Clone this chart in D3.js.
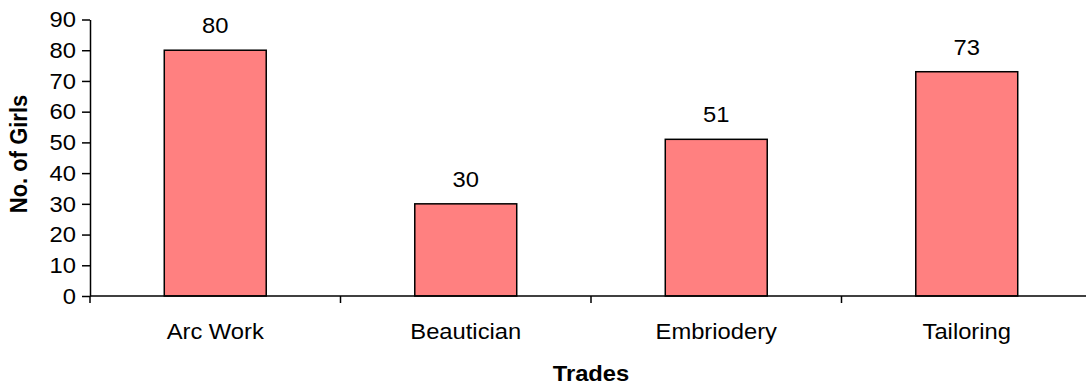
<!DOCTYPE html>
<html>
<head>
<meta charset="utf-8">
<script src="https://cdn.jsdelivr.net/npm/d3@7"></script>
<style>
  html, body { margin: 0; padding: 0; background: #fff; }
  svg { display: block; }
  text { font-family: "Liberation Sans", Arial, sans-serif; fill: #000; }
</style>
</head>
<body>
<svg id="chart" width="1086" height="387"></svg>
<script>
// Trainee counts per trade
const trades = ["Arc Work", "Beautician", "Embriodery", "Tailoring"];
const girls = [80, 30, 51, 73];
const yTicks = [0, 10, 20, 30, 40, 50, 60, 70, 80, 90];

const svg = d3.select("#chart");
const plotLeft = 90, plotRight = 1092, plotTop = 19.5, plotBottom = 296;
const fontSize = 22;
const stretch = 1.08; // text is drawn slightly wide

const x = d3.scaleBand()
  .domain(trades)
  .range([plotLeft, plotRight])
  .paddingInner(0.593)
  .paddingOuter(0.2965);

const y = d3.scaleLinear().domain([0, 90]).range([plotBottom, plotTop]);

// Helper: place a text label at (px, py) with the horizontal stretch applied
function label(sel, px, py) {
  return sel.attr("transform", (d, i) =>
    `translate(${typeof px === "function" ? px(d, i) : px},${typeof py === "function" ? py(d, i) : py}) scale(${stretch},1)`);
}

// Bars
svg.append("g").selectAll("rect")
  .data(trades)
  .join("rect")
  .attr("x", d => x(d))
  .attr("y", (d, i) => y(girls[i]))
  .attr("width", x.bandwidth())
  .attr("height", (d, i) => y(0) - y(girls[i]))
  .attr("fill", "#FF8080")
  .attr("stroke", "#000")
  .attr("stroke-width", 1.5);

// Value labels above bars
label(svg.append("g").selectAll("text")
  .data(trades)
  .join("text"),
  d => x(d) + x.bandwidth() / 2,
  (d, i) => y(girls[i]) - 17)
  .attr("text-anchor", "middle")
  .attr("font-size", fontSize)
  .text((d, i) => girls[i]);

// Y axis line and ticks
const yAxis = svg.append("g")
  .attr("transform", `translate(${plotLeft},0)`)
  .call(d3.axisLeft(y).tickValues(yTicks).tickSize(8).tickSizeOuter(0).tickFormat(""));
yAxis.select(".domain").attr("stroke", "#000").attr("stroke-width", 1.5);
yAxis.selectAll(".tick line").attr("stroke", "#000").attr("stroke-width", 1.5);

// Y tick labels
label(svg.append("g").selectAll("text")
  .data(yTicks)
  .join("text"),
  plotLeft - 14,
  d => y(d))
  .attr("text-anchor", "end")
  .attr("dy", "0.35em")
  .attr("font-size", fontSize)
  .text(d => d);

// X axis: tick marks on category boundaries, labels centred in each band
const step = x.step();
const boundaries = d3.range(trades.length + 1).map(i => plotLeft + i * step);
svg.append("line")
  .attr("x1", plotLeft).attr("x2", plotRight)
  .attr("y1", plotBottom).attr("y2", plotBottom)
  .attr("stroke", "#000").attr("stroke-width", 1.5);
svg.append("g").selectAll("line")
  .data(boundaries)
  .join("line")
  .attr("x1", d => d).attr("x2", d => d)
  .attr("y1", plotBottom).attr("y2", plotBottom + 7)
  .attr("stroke", "#000").attr("stroke-width", 1.5);
label(svg.append("g").selectAll("text")
  .data(trades)
  .join("text"),
  d => x(d) + x.bandwidth() / 2,
  339)
  .attr("text-anchor", "middle")
  .attr("font-size", fontSize)
  .text(d => d);

// Axis titles
svg.append("text")
  .attr("transform", `translate(${(plotLeft + plotRight) / 2},381) scale(${stretch},1)`)
  .attr("text-anchor", "middle")
  .attr("font-size", fontSize)
  .attr("font-weight", "bold")
  .text("Trades");

svg.append("text")
  .attr("transform", `translate(27,154) scale(${stretch},1) rotate(-90)`)
  .attr("text-anchor", "middle")
  .attr("font-size", fontSize)
  .attr("font-weight", "bold")
  .text("No. of Girls");
</script>
</body>
</html>
